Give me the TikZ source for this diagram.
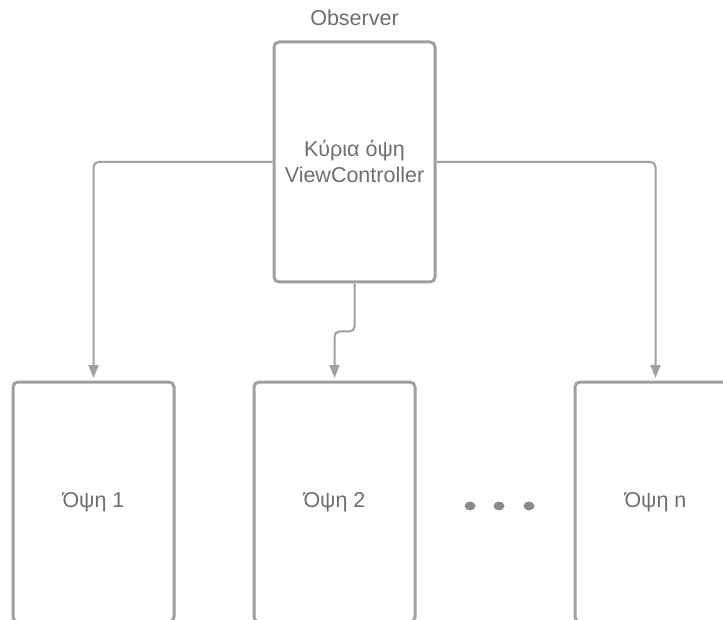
\documentclass[tikz,border=0pt]{standalone}
\usepackage{fontspec}
\setmainfont{Liberation Sans}
\usetikzlibrary{arrows.meta}
\definecolor{linegray}{HTML}{A0A0A0}
\definecolor{textgray}{HTML}{6E6E6E}
\definecolor{dotgray}{HTML}{8A8A8A}
\begin{document}
\begin{tikzpicture}[x=1pt,y=-1pt,
 viewbox/.style={draw=linegray, line width=3pt, rounded corners=5pt, minimum width=161pt, minimum height=240pt, inner sep=0pt, text=textgray, font=\fontsize{21.5}{26}\selectfont, align=center},
 conn/.style={draw=linegray, line width=2pt, rounded corners=5pt, -{Triangle[length=13pt,width=10pt]}, shorten >=2.5pt},
 lbl/.style={text=textgray, font=\fontsize{21.5}{26}\selectfont},
 dot/.style={fill=dotgray, draw=none}]
\useasboundingbox (0,0) rectangle (723,620);
\clip (0,0) rectangle (723,620);
\node[lbl, anchor=base] (obs) at (354.5,26) {Observer};
\node[viewbox] (main) at (354.5,162) {Κύρια όψη\\ViewController};
\node[viewbox] (v1) at (93.5,502) {Όψη 1};
\node[viewbox] (v2) at (334.5,502) {Όψη 2};
\node[viewbox] (vn) at (655.5,502) {Όψη n};
\draw[conn] (main.west) -| (v1.north);
\draw[conn] (main.east) -| (vn.north);
\draw[conn] (main.south) -- ++(0,48) -| (v2.north);
\fill[dot] (470,506) ellipse [x radius=5.5pt, y radius=4.5pt];
\fill[dot] (499,506) ellipse [x radius=5.5pt, y radius=4.5pt];
\fill[dot] (529,506) ellipse [x radius=5.5pt, y radius=4.5pt];
\end{tikzpicture}
\end{document}
